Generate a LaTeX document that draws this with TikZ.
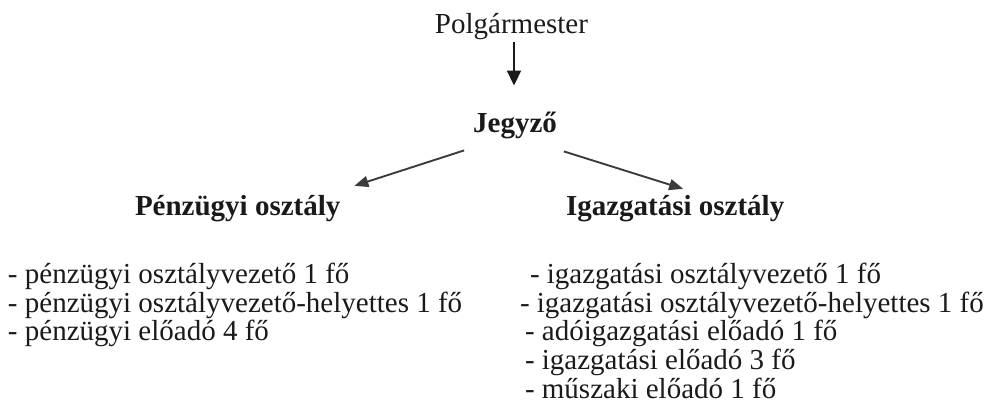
\documentclass[tikz,border=0pt]{standalone}
\usepackage{fontspec}
\setmainfont{Liberation Serif}
\usetikzlibrary{arrows.meta,calc}
\definecolor{ink}{HTML}{1A1A1A}
\tikzset{
  txt/.style={inner sep=0pt, outer sep=0pt, text=ink, font=\fontsize{29}{28.6}\selectfont},
  head/.style={txt, font=\fontsize{29}{28.6}\selectfont\bfseries},
  arr/.style={draw=ink, line width=1.9pt, -{Triangle[length=15pt,width=14pt]}},
  arrs/.style={draw=ink!85, line width=1.9pt, -{Triangle[length=14pt,width=11pt]}},
}
\begin{document}
\begin{tikzpicture}[x=1pt,y=-1pt]
\useasboundingbox (0,0) rectangle (996,418);
\node[txt, anchor=base] (p) at (511.5,33) {Polgármester};
\node[head, anchor=base] (j) at (515,132) {Jegyző};
\node[head, anchor=base west] (pf) at (135,215) {Pénzügyi osztály};
\node[head, anchor=base west] (ig) at (566,215) {Igazgatási osztály};

\draw[arr] ($(p.south -| j.north)+(-1,3)$) -- ($(j.north)+(-1,-26)$);
\draw[arrs] ($(j.south west)+(-9,12)$) -- ($(pf.north east)+(14,-9)$);
\draw[arrs] ($(j.south east)+(7,13)$) -- ($(ig.north)+(8,-6)$);

\node[txt, anchor=base west] (l1) at (8,283) {- pénzügyi osztályvezető 1 fő};
\node[txt, anchor=base west] (l2) at (8,312) {- pénzügyi osztályvezető-helyettes 1 fő};
\node[txt, anchor=base west] (l3) at (8,340) {- pénzügyi előadó 4 fő};

\node[txt, anchor=base west] (r1) at (530,283) {- igazgatási osztályvezető 1 fő};
\node[txt, anchor=base west] (r2) at (520,312) {- igazgatási osztályvezető-helyettes 1 fő};
\node[txt, anchor=base west] (r3) at (525,340) {- adóigazgatási előadó 1 fő};
\node[txt, anchor=base west] (r4) at (525,369) {- igazgatási előadó 3 fő};
\node[txt, anchor=base west] (r5) at (525,398) {- műszaki előadó 1 fő};
\end{tikzpicture}
\end{document}
